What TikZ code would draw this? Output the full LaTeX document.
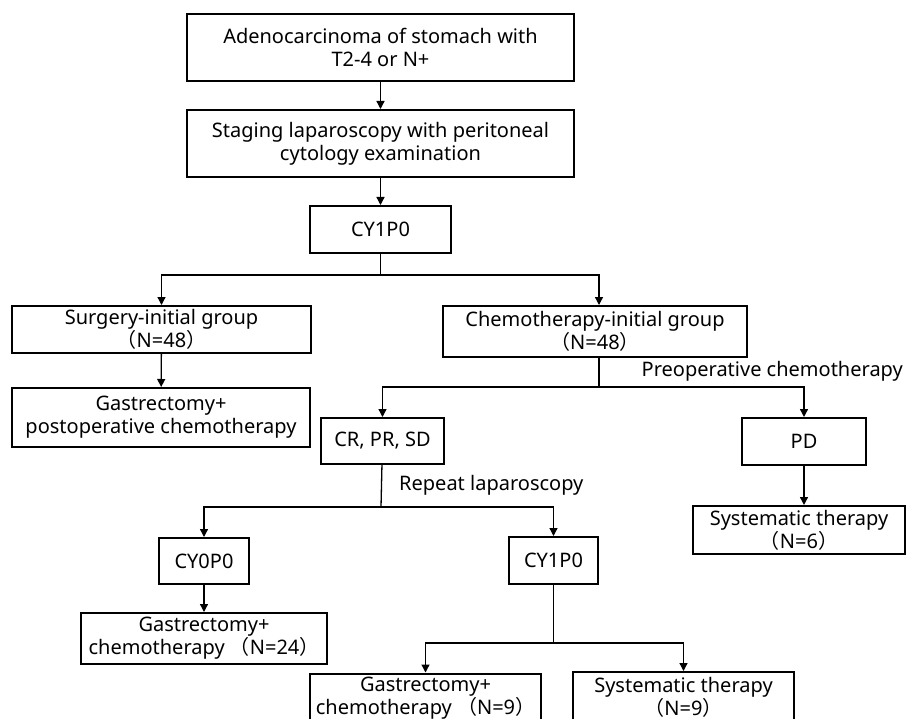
\documentclass[tikz,border=0pt]{standalone}
\usepackage{fontspec}
\setmainfont{Noto Sans}
\newfontfamily\cjk{Noto Sans CJK SC}
\usepackage{tikz}
\usetikzlibrary{arrows.meta, positioning}

\begin{document}
\begin{tikzpicture}[x=1pt, y=-1pt, >={Triangle[length=8pt, width=8pt]},
        box/.style={rectangle, draw, align=center, inner sep=0pt, line width=2pt, font=\fontsize{20}{23}\selectfont},
        lbl/.style={inner sep=0pt, font=\fontsize{20}{23}\selectfont},
        link/.style={line width=1.3pt}]
        \useasboundingbox (0,0) rectangle (907,719);
        
        % Nodes
        \node[box, minimum width=387pt, minimum height=67pt] (adeno) at (380.5,47.5) {Adenocarcinoma of stomach with\\T2-4 or N+};
        \node[box, minimum width=387pt, minimum height=67pt] (staging) at (380.5,143.5) {Staging laparoscopy with peritoneal\\cytology examination};
        \node[box, minimum width=141pt, minimum height=47pt] (cyA) at (380.5,229.5) {CY1P0};
        \node[box, minimum width=299pt, minimum height=47pt] (surgery) at (161.5,329.5) {Surgery-initial group\\{\cjk （}N=48{\cjk ）}};
        \node[box, minimum width=304pt, minimum height=51pt] (chemo) at (595,331.5) {Chemotherapy-initial group\\{\cjk （}N=48{\cjk ）}};
        \node[box, minimum width=298pt, minimum height=59pt] (postop) at (161,417.5) {Gastrectomy+\\postoperative chemotherapy};
        \node[box, minimum width=123pt, minimum height=46pt] (crpr) at (382.5,441) {CR, PR, SD};
        \node[box, minimum width=124pt, minimum height=47pt] (pd) at (804,441.5) {PD};
        \node[box, minimum width=212pt, minimum height=48pt] (sys6) at (799,530) {Systematic therapy\\{\cjk （}N=6{\cjk ）}};
        \node[box, minimum width=90pt, minimum height=46pt] (cy0) at (204,561) {CY0P0};
        \node[box, minimum width=89pt, minimum height=47pt] (cyB) at (553.5,560.5) {CY1P0};
        \node[box, minimum width=246pt, minimum height=51pt] (gas24) at (204,638.5) {Gastrectomy+\\chemotherapy {\cjk （}N=24{\cjk ）}};
        \node[box, minimum width=231pt, minimum height=50pt] (gas9) at (425.5,698.5) {Gastrectomy+\\chemotherapy {\cjk （}N=9{\cjk ）}};
        \node[box, minimum width=221pt, minimum height=51pt] (sys9) at (683.5,697.5) {Systematic therapy\\{\cjk （}N=9{\cjk ）}};
        
        % Labels
        \node[lbl, anchor=east] (preop) at (903,371) {Preoperative chemotherapy};
        \node[lbl, anchor=west] (repeat) at (399,485) {Repeat laparoscopy};
        
        % Forks
        \coordinate (f1) at (380.5,275);
        \coordinate (f2) at (599,387);
        \coordinate (f3) at (381,507);
        \coordinate (f4) at (553.5,643);
        
        % Edges
        \draw[->, link] (adeno) -- (staging);
        \draw[->, link] (staging) -- (cyA);
        \draw[link] (cyA) -- (f1);
        \draw[->, link] (f1) -| (surgery.north);
        \draw[->, link] (f1) -| (f2 |- chemo.north);
        \draw[->, link] (surgery) -- (postop);
        \draw[link] (f2 |- chemo.south) -- (f2);
        \draw[->, link] (f2) -| (crpr.north);
        \draw[->, link] (f2) -| (pd.north);
        \draw[->, link] (pd.south) -- (pd.south |- sys6.north);
        \draw[link] (crpr) -- (f3);
        \draw[->, link] (f3) -| (cy0.north);
        \draw[->, link] (f3) -| (cyB.north);
        \draw[->, link] (cy0) -- (gas24);
        \draw[link] (cyB) -- (f4);
        \draw[->, link] (f4) -| (gas9.north);
        \draw[->, link] (f4) -| (sys9.north);
    \end{tikzpicture}
\end{document}
